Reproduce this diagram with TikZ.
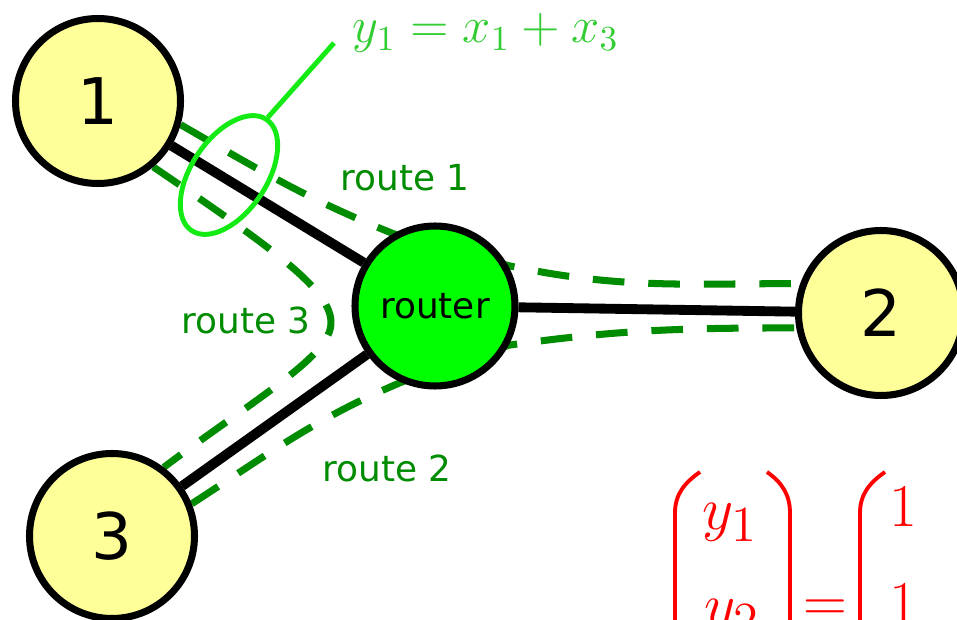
\documentclass[tikz,border=0pt]{standalone}
\usepackage{fontspec}
\setsansfont{DejaVu Sans}
\usetikzlibrary{shapes.geometric}
\definecolor{hostfill}{RGB}{255,255,153}
\definecolor{hubfill}{RGB}{0,255,0}
\definecolor{routegreen}{RGB}{0,140,0}
\definecolor{loopgreen}{RGB}{20,235,20}
\definecolor{eqgreen}{RGB}{50,205,50}
\pgfdeclarelayer{background}
\pgfsetlayers{background,main}

\begin{document}
\begin{tikzpicture}[
  host/.style={circle,draw,line width=2pt,fill=hostfill,minimum size=1.65cm,inner sep=0pt,font=\fontsize{18.3}{22}\sffamily},
  hub/.style={circle,draw,line width=2pt,fill=hubfill,minimum size=1.6cm,inner sep=0pt,font=\fontsize{10.2}{12}\sffamily},
  link/.style={line width=2.8pt},
  route/.style={routegreen,line width=2pt,dash pattern=on 9pt off 6.8pt},
  routelabel/.style={routegreen,font=\fontsize{10.2}{12}\sffamily},
  redmath/.style={red,inner sep=0pt,anchor=base,font=\fontsize{19}{23}\selectfont},
  paren/.style={red,line width=1.1pt}]
  \useasboundingbox (0,0) rectangle (9.57,6.2);
  \clip (0,0) rectangle (9.57,6.2);
  \node[host] (n1) at (0.98,5.19) {1};
  \node[host] (n2) at (8.81,3.07) {2};
  \node[host] (n3) at (1.12,0.84) {3};
  \node[hub] (router) at (4.35,3.14) {router};
  \begin{pgfonlayer}{background}
    \draw[link] (n1) -- (router);
    \draw[link] (router) -- (n2);
    \draw[link] (router) -- (n3);
    \draw[route] (n1.-16) to[out=-30,in=158] (router.120) -- (router.29) to[out=-12,in=180] (n2.160);
    \draw[route] (n3.22) to[out=33,in=203] (router.246) -- (router.-28) to[out=8,in=180] (n2.190);
    \draw[route] (n1.-50) .. controls (2.9,3.6) and (3.45,3.2) .. (3.28,2.85) .. controls (3.15,2.55) and (2.4,2.1) .. (n3.53);
  \end{pgfonlayer}
  \node[routelabel] (lab1) at (4.05,4.42) {route 1};
  \node[routelabel] (lab3) at (2.46,3.00) {route 3};
  \node[routelabel] (lab2) at (3.87,1.52) {route 2};
  \node[draw=loopgreen,line width=1.4pt,ellipse,minimum width=1.34cm,minimum height=0.75cm,inner sep=0pt,rotate=56] (loop) at (2.29,4.45) {};
  \node[eqgreen,anchor=base west,inner xsep=0.18cm,inner ysep=0pt,font=\fontsize{14.4}{17}\selectfont] (eq) at (3.34,5.77) {$y_1 = x_1 + x_3$};
  \draw[loopgreen,line width=1.4pt] (loop.east) -- (eq.base west);
  \node[redmath] (ya) at (7.30,0.90) {$y_1$};
  \node[redmath] (yb) at (7.32,-0.06) {$y_2$};
  \node[redmath] (eqsign) at (8.255,-0.02) {$=$};
  \node[redmath] (ca) at (9.03,0.93) {$1$};
  \node[redmath] (cb) at (9.03,-0.04) {$1$};
  \draw[paren] (7.00,1.48) to[out=215,in=90] (6.75,1.07) -- (6.75,-0.3);
  \draw[paren] (7.67,1.48) to[out=-35,in=90] (7.90,1.07) -- (7.90,-0.3);
  \draw[paren] (8.85,1.48) to[out=215,in=90] (8.60,1.07) -- (8.60,-0.3);
\end{tikzpicture}
\end{document}
